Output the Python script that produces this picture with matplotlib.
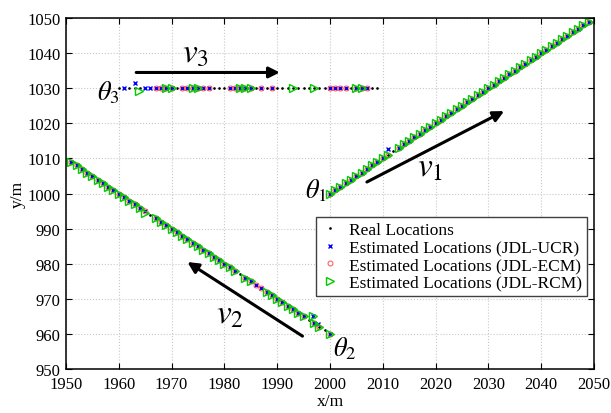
import matplotlib.pyplot as plt

plt.rcParams["font.family"] = ["Liberation Serif", "DejaVu Serif"]
plt.rcParams["mathtext.fontset"] = "stix"

# true target positions, 1 m per step
track1_x = [2000, 2001, 2002, 2003, 2004, 2005, 2006, 2007, 2008, 2009,
            2010, 2011, 2012, 2013, 2014, 2015, 2016, 2017, 2018, 2019,
            2020, 2021, 2022, 2023, 2024, 2025, 2026, 2027, 2028, 2029,
            2030, 2031, 2032, 2033, 2034, 2035, 2036, 2037, 2038, 2039,
            2040, 2041, 2042, 2043, 2044, 2045, 2046, 2047, 2048, 2049]
track1_y = [1000, 1001, 1002, 1003, 1004, 1005, 1006, 1007, 1008, 1009,
            1010, 1011, 1012, 1013, 1014, 1015, 1016, 1017, 1018, 1019,
            1020, 1021, 1022, 1023, 1024, 1025, 1026, 1027, 1028, 1029,
            1030, 1031, 1032, 1033, 1034, 1035, 1036, 1037, 1038, 1039,
            1040, 1041, 1042, 1043, 1044, 1045, 1046, 1047, 1048, 1049]
track2_x = [2000, 1999, 1998, 1997, 1996, 1995, 1994, 1993, 1992, 1991,
            1990, 1989, 1988, 1987, 1986, 1985, 1984, 1983, 1982, 1981,
            1980, 1979, 1978, 1977, 1976, 1975, 1974, 1973, 1972, 1971,
            1970, 1969, 1968, 1967, 1966, 1965, 1964, 1963, 1962, 1961,
            1960, 1959, 1958, 1957, 1956, 1955, 1954, 1953, 1952, 1951]
track2_y = [960, 961, 962, 963, 964, 965, 966, 967, 968, 969,
            970, 971, 972, 973, 974, 975, 976, 977, 978, 979,
            980, 981, 982, 983, 984, 985, 986, 987, 988, 989,
            990, 991, 992, 993, 994, 995, 996, 997, 998, 999,
            1000, 1001, 1002, 1003, 1004, 1005, 1006, 1007, 1008, 1009]
track3_x = [1960, 1961, 1962, 1963, 1964, 1965, 1966, 1967, 1968, 1969,
            1970, 1971, 1972, 1973, 1974, 1975, 1976, 1977, 1978, 1979,
            1980, 1981, 1982, 1983, 1984, 1985, 1986, 1987, 1988, 1989,
            1990, 1991, 1992, 1993, 1994, 1995, 1996, 1997, 1998, 1999,
            2000, 2001, 2002, 2003, 2004, 2005, 2006, 2007, 2008, 2009]
track3_y = [1030, 1030, 1030, 1030, 1030, 1030, 1030, 1030, 1030, 1030,
            1030, 1030, 1030, 1030, 1030, 1030, 1030, 1030, 1030, 1030,
            1030, 1030, 1030, 1030, 1030, 1030, 1030, 1030, 1030, 1030,
            1030, 1030, 1030, 1030, 1030, 1030, 1030, 1030, 1030, 1030,
            1030, 1030, 1030, 1030, 1030, 1030, 1030, 1030, 1030, 1030]

# true positions each method did not recover (x value per track)
ucr_missed = {1: [2011, 2012],
              2: [1966, 1983, 1996, 1998, 1999],
              3: [1960, 1962, 1963, 1964, 1971, 1978, 1979, 1980, 1986, 1988,
                  1990, 1991, 1992, 1993, 1994, 1995, 1996, 1997, 1998, 1999,
                  2004, 2008, 2009]}
ecm_missed = {1: [2012],
              2: [1966, 1983, 1996, 1999],
              3: [1960, 1961, 1962, 1963, 1964, 1965, 1966, 1971, 1978, 1979,
                  1980, 1986, 1988, 1990, 1991, 1992, 1993, 1994, 1995, 1996,
                  1997, 1998, 1999, 2004, 2008, 2009]}
rcm_missed = {1: [2012],
              2: [1965, 1966, 1983, 1986, 1987, 1996, 1999],
              3: [1960, 1961, 1962, 1963, 1964, 1965, 1966, 1967, 1968, 1971,
                  1972, 1973, 1976, 1977, 1978, 1979, 1980, 1981, 1982, 1986,
                  1987, 1988, 1989, 1990, 1991, 1992, 1994, 1995, 1996, 1998,
                  1999, 2000, 2001, 2002, 2003, 2004, 2007, 2008, 2009]}

# estimates that landed off the true track
ucr_off_x = [1963.0, 2011.0, 1996.7, 1997.7]
ucr_off_y = [1031.5, 1012.6, 965.2, 962.8]
rcm_off_x = [1963.9, 1996.7, 1965.0]
rcm_off_y = [1029.2, 965.2, 994.4]

tracks = {1: (track1_x, track1_y), 2: (track2_x, track2_y), 3: (track3_x, track3_y)}


def recovered(missed, off_x=(), off_y=()):
    xs, ys = [], []
    for k, (tx, ty) in tracks.items():
        for x, y in zip(tx, ty):
            if x not in missed[k]:
                xs.append(x)
                ys.append(y)
    return xs + list(off_x), ys + list(off_y)


real_x = track1_x + track2_x + track3_x
real_y = track1_y + track2_y + track3_y
ucr_x, ucr_y = recovered(ucr_missed, ucr_off_x, ucr_off_y)
ecm_x, ecm_y = recovered(ecm_missed)
rcm_x, rcm_y = recovered(rcm_missed, rcm_off_x, rcm_off_y)

fig = plt.figure(figsize=(6.11, 4.14), dpi=100)
ax = fig.add_axes([0.108, 0.106, 0.864, 0.848])

ax.plot(real_x, real_y, ".", color="k", markersize=1.8, label="Real Locations")
ax.plot(ucr_x, ucr_y, "x", color="b", markersize=3.5, markeredgewidth=1,
        label="Estimated Locations (JDL-UCR)")
ax.plot(ecm_x, ecm_y, "o", color="#ff6060", markerfacecolor="none",
        markersize=3.5, markeredgewidth=0.8, label="Estimated Locations (JDL-ECM)")
ax.plot(rcm_x, rcm_y, ">", color="#00cc00", markerfacecolor="none",
        markersize=5.5, markeredgewidth=1, label="Estimated Locations (JDL-RCM)")

# motion direction arrows
arrow = dict(arrowstyle="-|>", color="k", lw=2.2, mutation_scale=16,
             shrinkA=0, shrinkB=0)
ax.annotate("", xy=(1990.5, 1034.5), xytext=(1963.3, 1034.5), arrowprops=arrow)
ax.annotate("", xy=(2033.0, 1023.5), xytext=(2007.0, 1003.3), arrowprops=arrow)
ax.annotate("", xy=(1973.0, 980.5), xytext=(1994.8, 959.4), arrowprops=arrow)

ax.text(1974.5, 1040.0, r"$v_3$", fontsize=24, ha="center", va="center")
ax.text(2019.0, 1007.5, r"$v_1$", fontsize=24, ha="center", va="center")
ax.text(1981.0, 965.5, r"$v_2$", fontsize=24, ha="center", va="center")
ax.text(1958.0, 1029.0, r"$\theta_3$", fontsize=19, ha="center", va="center")
ax.text(1997.4, 1001.0, r"$\theta_1$", fontsize=19, ha="center", va="center")
ax.text(2002.8, 956.2, r"$\theta_2$", fontsize=19, ha="center", va="center")

ax.set_xlim(1950, 2050)
ax.set_ylim(950, 1050)
ax.set_xticks(range(1950, 2051, 10))
ax.set_yticks(range(950, 1051, 10))
ax.tick_params(direction="in", top=True, right=True, labelsize=12, length=4.5)
ax.tick_params(axis="x", pad=5)
ax.tick_params(axis="y", pad=4)
ax.grid(True, linestyle=":", color="#c8c8c8", linewidth=0.8)
for s in ax.spines.values():
    s.set_linewidth(1.1)
ax.set_xlabel("x/m", fontsize=12.5, labelpad=1)
ax.set_ylabel("y/m", fontsize=12.5, labelpad=1)

ax.legend(loc="lower right", bbox_to_anchor=(0.987, 0.208), borderaxespad=0,
          fontsize=12.5, fancybox=False, edgecolor="#404040", framealpha=1,
          handlelength=1.0, handletextpad=0.6, labelspacing=0.08, borderpad=0.3)

fig.savefig("out.png", dpi=100)
